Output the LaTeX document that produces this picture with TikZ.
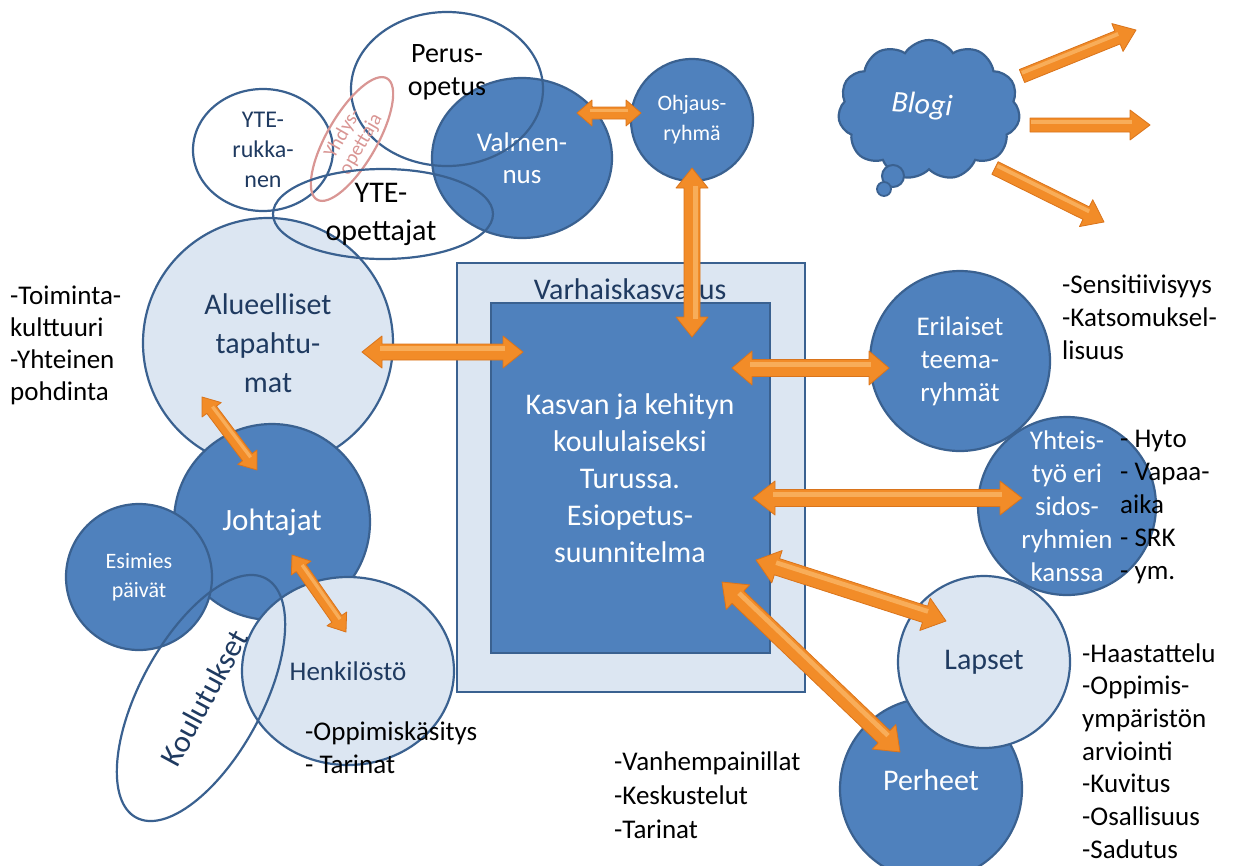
\documentclass[tikz,border=0pt]{standalone}
\usepackage{fontspec}
\setmainfont{Carlito}
\usetikzlibrary{shapes.geometric,shapes.symbols,calc}
\definecolor{dk}{HTML}{4F81BD}
\definecolor{dkline}{HTML}{3A6190}
\definecolor{lt}{HTML}{DCE6F2}
\definecolor{txtblue}{HTML}{1F3A60}
\definecolor{pinkl}{HTML}{D99694}
\definecolor{orfill}{HTML}{F28C28}
\definecolor{oredge}{HTML}{D9741C}
\definecolor{orlight}{HTML}{FBB96A}
\newcommand\myfs[2]{\fontsize{#1}{#2}\selectfont}
% shared let-prefix for the block arrows
\newcommand\arrlet[2]{let \p1=(#1), \p2=(#2), \n1={atan2(\y2-\y1,\x2-\x1)}, \n2={veclen(\x2-\x1,\y2-\y1)} in [shift={(\p1)}, rotate=\n1]}
% double-headed block arrow: from, to, shaft half width, head half width, head length
\newcommand\dblarr[5]{%
  \filldraw[arr] \arrlet{#1}{#2}
  (0pt,0pt) -- (#5pt,#4pt) -- (#5pt,#3pt) -- ({(\n2-#5)*1pt},#3pt) -- ({(\n2-#5)*1pt},#4pt)
  -- ({\n2*1pt},0pt) -- ({(\n2-#5)*1pt},-#4pt) -- ({(\n2-#5)*1pt},-#3pt) -- (#5pt,-#3pt) -- (#5pt,-#4pt) -- cycle;
  \fill[arrhl] \arrlet{#1}{#2}
  ({(#5-2)*1pt},{#3*0.15pt}) rectangle ({(\n2-#5+2)*1pt},{#3*0.7pt});}
% single-headed block arrow
\newcommand\sglarr[5]{%
  \filldraw[arr] \arrlet{#1}{#2}
  (0pt,#3pt) -- ({(\n2-#5)*1pt},#3pt) -- ({(\n2-#5)*1pt},#4pt)
  -- ({\n2*1pt},0pt) -- ({(\n2-#5)*1pt},-#4pt) -- ({(\n2-#5)*1pt},-#3pt) -- (0pt,-#3pt) -- cycle;
  \fill[arrhl] \arrlet{#1}{#2}
  (1pt,{#3*0.15pt}) rectangle ({(\n2-#5+2)*1pt},{#3*0.7pt});}
\begin{document}
\begin{tikzpicture}[x=1pt,y=-1pt,
  dkc/.style={circle, fill=dk, draw=dkline, line width=2.2pt, text=white, align=center, inner sep=0pt},
  ltc/.style={circle, fill=lt, draw=dkline, line width=2.2pt, text=txtblue, align=center, inner sep=0pt},
  dke/.style={ellipse, fill=dk, draw=dkline, line width=2.2pt, text=white, align=center, inner sep=0pt},
  lte/.style={ellipse, fill=lt, draw=dkline, line width=2.2pt, text=txtblue, align=center, inner sep=0pt},
  ring/.style={ellipse, draw=dkline, line width=2.2pt, inner sep=0pt},
  lbl/.style={align=center, inner sep=0pt},
  lst/.style={anchor=west, align=left, inner sep=0pt, text=black, font=\myfs{27}{33}},
  arr/.style={fill=orfill, draw=oredge, line width=0.8pt, line join=round},
  arrhl/.style={fill=orlight, fill opacity=0.75},
]
\path[use as bounding box] (0,0) rectangle (1236,865);
\clip (0,0) rectangle (1236,865);

% central boxes
\node[draw=dkline, fill=lt, line width=2.2pt, minimum width=348pt, minimum height=429pt, inner sep=0pt] (outer) at (631,477.5) {};
\node[draw=dkline, fill=dk, line width=2.2pt, minimum width=279pt, minimum height=350pt, inner sep=0pt] (inner) at (630.5,478) {};
\node[lbl, text=txtblue, font=\myfs{30}{36}] (vk) at (630,289) {Varhaiskasvatus};
\node[lbl, text=white, font=\myfs{30}{37}] (ktxt) at (630,478) {Kasvan ja kehityn\\koululaiseksi\\Turussa.\\Esiopetus-\\suunnitelma};

% left cluster
\node[ltc, minimum size=250pt, font=\myfs{30}{39}] (alu) at (268,343) {Alueelliset\\tapahtu-\\mat};
\node[dkc, minimum size=196pt, font=\myfs{31}{37}] (joh) at (272,522) {Johtajat};
\node[dkc, minimum size=146pt, font=\myfs{22}{29}] (esi) at (139,577) {Esimies\\päivät};
\node[lte, minimum width=212pt, minimum height=188pt, font=\myfs{27}{33}] (hen) at (348,671) {Henkilöstö};
\node[ring, minimum width=272pt, minimum height=122pt, rotate=61.5] (kou) at (201,698) {};
\node[lbl, text=txtblue, font=\myfs{31}{36}, rotate=61.5] (koutxt) at (204,698) {Koulutukset};

% top cluster
\node[dke, minimum width=180pt, minimum height=160pt, font=\myfs{27}{32}] (val) at (522,158) {Valmen-\\nus};
\node[dkc, minimum size=122pt, font=\myfs{22}{30}] (ohj) at (692,120) {Ohjaus-\\ryhmä};
\node[ring, minimum width=192pt, minimum height=154pt] (per) at (447,89) {};
\node[lbl, text=black, font=\myfs{28}{33}] (pertxt) at (447,72) {Perus-\\opetus};
\node[ring, minimum width=140pt, minimum height=122pt, text=txtblue, align=center, font=\myfs{24}{30}] (ruk) at (263,150) {YTE-\\rukka-\\nen};
\node[ellipse, draw=pinkl, line width=2.2pt, minimum width=140pt, minimum height=50pt, inner sep=0pt, rotate=60] (yhd) at (352,139) {};
\node[lbl, text=pinkl, font=\myfs{20}{21}, rotate=60] (yhdtxt) at (352,139) {Yhdys-\\opettaja};
\node[ring, minimum width=220pt, minimum height=90pt] (yte) at (383,214) {};
\node[lbl, text=black, font=\myfs{30}{38}] (ytetxt) at (381,214) {YTE-\\opettajat};

% right cluster
\node[dkc, minimum size=180pt, font=\myfs{27}{33}] (eri) at (960,361) {Erilaiset\\teema-\\ryhmät};
\node[dkc, minimum size=178pt, font=\myfs{27}{33}] (yht) at (1067,506) {Yhteis-\\työ eri\\sidos-\\ryhmien\\kanssa};
\node[dkc, minimum size=182pt] (perh) at (931,789) {};
\node[lbl, text=white, font=\myfs{30}{36}] (perhtxt) at (931,780) {Perheet};
\node[ltc, minimum size=172pt, font=\myfs{30}{36}] (lap) at (984,662) {Lapset};

% blog cloud
\node[cloud, cloud puffs=11, cloud puff arc=115, aspect=1.3, fill=dk, draw=dkline, line width=2.2pt,
      minimum width=182pt, minimum height=140pt, inner sep=0pt] (blog) at (929,110) {};
\node[lbl, text=white, font=\myfs{30}{36}\itshape, rotate=-4] (blogtxt) at (922,106) {Blogi};
\node[circle, fill=dk, draw=dkline, line width=2pt, minimum size=22pt, inner sep=0pt] (bub1) at (893,176) {};
\node[circle, fill=dk, draw=dkline, line width=1.8pt, minimum size=14pt, inner sep=0pt] (bub2) at (884,189) {};

% text lists
\node[lst, font=\myfs{27}{32}] (l1) at (10,345) {-Toiminta-\\kulttuuri\\-Yhteinen\\pohdinta};
\node[lst] (l2) at (1062,317) {-Sensitiivisyys\\-Katsomuksel-\\lisuus};
\node[lst] (l3) at (1120,507) {- Hyto\\- Vapaa-\\aika\\- SRK\\- ym.};
\node[lst] (l4) at (305,748) {-Oppimiskäsitys\\- Tarinat};
\node[lst, font=\myfs{27}{34}] (l5) at (614,795) {-Vanhempainillat\\-Keskustelut\\-Tarinat};
\node[lst, font=\myfs{27}{32.7}] (l6) at (1082,751) {-Haastattelu\\-Oppimis-\\ympäristön\\arviointi\\-Kuvitus\\-Osallisuus\\-Sadutus};

% arrow end points
\coordinate (a1s) at (577,113); \coordinate (a1e) at (641,113);
\coordinate (a2s) at (692,168); \coordinate (a2e) at (692,337);
\coordinate (a3s) at (362,352); \coordinate (a3e) at (523,352);
\coordinate (a4s) at (732,368); \coordinate (a4e) at (889,368);
\coordinate (a5s) at (753,498); \coordinate (a5e) at (1022,498);
\coordinate (a6s) at (756,560); \coordinate (a6e) at (946,621);
\coordinate (a7s) at (722,582); \coordinate (a7e) at (900,752);
\coordinate (a8s) at (202,397); \coordinate (a8e) at (257,470);
\coordinate (a9s) at (292,555); \coordinate (a9e) at (346,632);
\coordinate (b1s) at (1022,76); \coordinate (b1e) at (1136,30);
\coordinate (b2s) at (1030,125); \coordinate (b2e) at (1150,125);
\coordinate (b3s) at (995,168); \coordinate (b3e) at (1104,222);

\dblarr{a1s}{a1e}{6}{13}{15}
\dblarr{a2s}{a2e}{8}{16}{20}
\dblarr{a3s}{a3e}{8}{16}{20}
\dblarr{a4s}{a4e}{8.5}{17}{20}
\dblarr{a5s}{a5e}{8.5}{17}{22}
\dblarr{a6s}{a6e}{8.5}{17}{22}
\dblarr{a7s}{a7e}{8.5}{17}{22}
\dblarr{a8s}{a8e}{6}{12}{16}
\dblarr{a9s}{a9e}{6}{12}{16}
\sglarr{b1s}{b1e}{7}{15}{20}
\sglarr{b2s}{b2e}{7}{15}{20}
\sglarr{b3s}{b3e}{7}{15}{20}
\end{tikzpicture}
\end{document}
